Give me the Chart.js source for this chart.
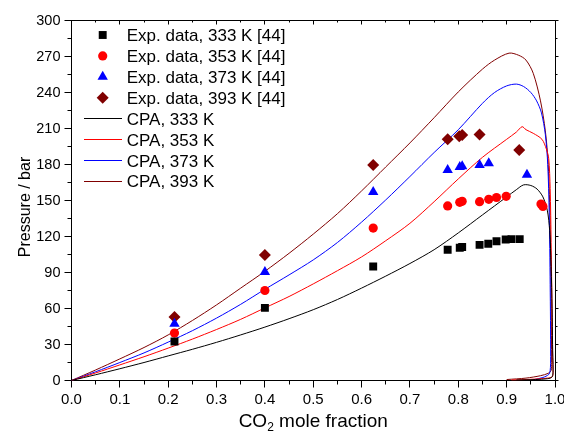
<!DOCTYPE html>
<html>
<head>
<meta charset="utf-8">
<script src="https://cdn.jsdelivr.net/npm/chart.js@4.4.1/dist/chart.umd.min.js"></script>
<style>
  body { margin: 0; background: #fff; }
  canvas { display: block; }
</style>
</head>
<body>
<canvas id="chart" width="564" height="439"></canvas>
<script>
const expLabels = ["Exp. data, 333 K [44]", "Exp. data, 353 K [44]", "Exp. data, 373 K [44]", "Exp. data, 393 K [44]"];
const cpaLabels = ["CPA, 333 K", "CPA, 353 K", "CPA, 373 K", "CPA, 393 K"];

// experimental points (CO2 mole fraction, pressure in bar)
const x333 = [0.213, 0.4, 0.624, 0.778, 0.803, 0.808, 0.844, 0.862, 0.879, 0.898, 0.91, 0.927];
const p333 = [32.5, 60.5, 95, 109, 110.6, 111.3, 113, 114, 116, 117.5, 117.8, 117.8];
const x353 = [0.213, 0.4, 0.624, 0.778, 0.803, 0.808, 0.844, 0.863, 0.879, 0.899, 0.971, 0.975];
const p353 = [39.5, 75, 127, 145.5, 148.5, 149.3, 149, 151, 152.5, 153.5, 147, 145];
const x373 = [0.213, 0.4, 0.624, 0.778, 0.803, 0.808, 0.844, 0.863, 0.942];
const p373 = [47.3, 90.5, 157, 175.5, 178, 178.5, 179.5, 181, 171.5];
const x393 = [0.213, 0.4, 0.624, 0.778, 0.802, 0.808, 0.844, 0.926];
const p393 = [53, 104.5, 179.5, 201, 203.5, 204.5, 205, 192];

// CPA model curves (bubble branch, then dew branch back down)
const cpa333X = [0, 0.05, 0.1, 0.15, 0.2, 0.25, 0.3, 0.35, 0.4, 0.45, 0.5, 0.55, 0.6, 0.65, 0.7, 0.75, 0.8, 0.85, 0.9, 0.92, 0.935, 0.95, 0.963, 0.975, 0.984, 0.989, 0.992, 0.994, 0.995, 0.996, 0.994, 0.985, 0.96, 0.92];
const cpa333P = [0, 4.8, 9.8, 15, 20.5, 26, 31.8, 38, 44.5, 51.5, 59, 67.5, 77, 87, 97.5, 109, 123, 138, 153, 159, 163, 162.5, 159.5, 153, 142, 125, 95, 60, 30, 8, 3, 1.5, 0.8, 0.4];
const cpa353X = [0, 0.05, 0.1, 0.15, 0.2, 0.25, 0.3, 0.35, 0.4, 0.45, 0.5, 0.55, 0.6, 0.65, 0.7, 0.75, 0.8, 0.85, 0.9, 0.92, 0.932, 0.94, 0.955, 0.973, 0.982, 0.987, 0.99, 0.992, 0.994, 0.995, 0.996, 0.994, 0.985, 0.95, 0.91];
const cpa353P = [0, 6.3, 13, 19.8, 27, 34.5, 42.5, 51, 60.5, 70, 80.5, 91.5, 103, 116.5, 131, 149, 168, 186, 201, 207, 211.5, 209, 206, 201, 193, 185, 160, 115, 55, 20, 6, 3, 2, 1, 0.4];
const cpa373X = [0, 0.05, 0.1, 0.15, 0.2, 0.25, 0.3, 0.35, 0.4, 0.45, 0.5, 0.55, 0.6, 0.65, 0.7, 0.75, 0.8, 0.85, 0.875, 0.9, 0.92, 0.935, 0.95, 0.962, 0.972, 0.98, 0.985, 0.988, 0.99, 0.991, 0.99, 0.987, 0.975, 0.955];
const cpa373P = [0, 7.3, 15, 23, 32, 41.5, 52, 63.5, 76, 88, 100.5, 115, 132, 150.5, 170, 190, 209, 231, 240, 245.5, 247, 245, 240, 233, 223, 205, 180, 140, 80, 20, 8, 5, 2.5, 0.6];
const cpa393X = [0, 0.05, 0.1, 0.15, 0.2, 0.25, 0.3, 0.35, 0.4, 0.45, 0.5, 0.55, 0.6, 0.65, 0.7, 0.75, 0.8, 0.85, 0.875, 0.905, 0.925, 0.94, 0.955, 0.97, 0.98, 0.986, 0.99, 0.992, 0.993, 0.992, 0.986, 0.97, 0.94, 0.9];
const cpa393P = [0, 8.8, 18, 27.5, 38, 50, 63, 77, 91, 106, 122, 139, 158, 178, 198, 219, 240.5, 259.5, 267, 272.8, 271, 267, 256, 233, 208, 180, 130, 60, 15, 8.5, 6, 4, 2, 0.8];

const toPoints = (xs, ps) => xs.map((x, i) => ({ x: x, y: ps[i] }));

const FONT = "'Liberation Sans', Arial, sans-serif";
Chart.defaults.font.family = FONT;
Chart.defaults.color = "#000";

function expSet(label, xs, ps, style, radius, color) {
  return {
    label: label,
    data: toPoints(xs, ps),
    pointStyle: style,
    pointRadius: radius,
    pointHoverRadius: radius,
    pointBackgroundColor: color,
    pointBorderWidth: 0,
    borderColor: color,
    backgroundColor: color,
    showLine: false,
  };
}

function cpaSet(label, xs, ps, color) {
  return {
    label: label,
    data: toPoints(xs, ps),
    showLine: true,
    borderColor: color,
    borderWidth: 1,
    pointRadius: 0,
    tension: 0.3,
  };
}

const align = (v) => Math.round(v - 0.5) + 0.5;

// box, minor ticks, axis titles and the legend
const decorations = {
  id: "decorations",
  afterDraw(chart) {
    const { ctx, chartArea: { left, right, top, bottom }, scales: { x, y } } = chart;
    const L = align(left), R = align(right), T = align(top), B = align(bottom);
    ctx.save();
    ctx.strokeStyle = "#000";
    ctx.lineWidth = 1;
    ctx.beginPath();
    ctx.moveTo(L, T);
    ctx.lineTo(R, T);
    ctx.lineTo(R, B);
    for (let i = 0; i <= 20; i++) {
      const px = align(x.getPixelForValue(i * 0.05));
      const major = i % 2 === 0;
      if (!major) {
        ctx.moveTo(px, B);
        ctx.lineTo(px, B + 4);
      }
      ctx.moveTo(px, T);
      ctx.lineTo(px, T + (major ? 4 : 2));
    }
    for (let i = 0; i <= 20; i++) {
      const py = align(y.getPixelForValue(i * 15));
      const major = i % 2 === 0;
      if (!major) {
        ctx.moveTo(L, py);
        ctx.lineTo(L - 4, py);
      }
      ctx.moveTo(R, py);
      ctx.lineTo(R + (major ? 3 : 2), py);
    }
    ctx.stroke();

    // y title
    ctx.fillStyle = "#000";
    ctx.font = "16px " + FONT;
    ctx.textAlign = "center";
    ctx.textBaseline = "middle";
    ctx.save();
    ctx.translate(25.5, 207);
    ctx.rotate(-Math.PI / 2);
    ctx.fillText("Pressure / bar", 0, 0);
    ctx.restore();

    // x title with subscript
    ctx.textAlign = "left";
    ctx.textBaseline = "alphabetic";
    const big = "19px " + FONT, small = "12px " + FONT;
    ctx.font = big;
    const w1 = ctx.measureText("CO").width;
    const w3 = ctx.measureText(" mole fraction").width;
    ctx.font = small;
    const w2 = ctx.measureText("2").width;
    const tx = (left + right) / 2 - (w1 + w2 + w3) / 2;
    const base = 427;
    ctx.font = big;
    ctx.fillText("CO", tx, base);
    ctx.font = small;
    ctx.fillText("2", tx + w1, base + 4);
    ctx.font = big;
    ctx.fillText(" mole fraction", tx + w1 + w2, base);

    // legend
    ctx.font = "17px " + FONT;
    const rowY = 35, rowH = 20.9;
    chart.data.datasets.forEach((ds, i) => {
      const cy = rowY + i * rowH;
      if (ds.showLine) {
        ctx.strokeStyle = ds.borderColor;
        ctx.lineWidth = 1;
        ctx.beginPath();
        ctx.moveTo(84, align(cy));
        ctx.lineTo(122, align(cy));
        ctx.stroke();
      } else {
        ctx.fillStyle = ds.pointBackgroundColor;
        Chart.helpers.drawPoint(ctx, { pointStyle: ds.pointStyle, radius: ds.pointRadius, rotation: 0, borderWidth: 0 }, 102.7, cy);
      }
      ctx.fillStyle = "#000";
      ctx.fillText(ds.label, 126.7, cy + 6.1);
    });
    ctx.restore();
  },
};

new Chart(document.getElementById("chart"), {
  type: "scatter",
  data: {
    datasets: [
      expSet(expLabels[0], x333, p333, "rect", 5.6, "#000000"),
      expSet(expLabels[1], x353, p353, "circle", 4.6, "#ff0000"),
      expSet(expLabels[2], x373, p373, "triangle", 6, "#0000ff"),
      expSet(expLabels[3], x393, p393, "rectRot", 6, "#800000"),
      cpaSet(cpaLabels[0], cpa333X, cpa333P, "#000000"),
      cpaSet(cpaLabels[1], cpa353X, cpa353P, "#ff0000"),
      cpaSet(cpaLabels[2], cpa373X, cpa373P, "#0000ff"),
      cpaSet(cpaLabels[3], cpa393X, cpa393P, "#800000"),
    ],
  },
  options: {
    responsive: false,
    animation: false,
    layout: { padding: { left: 0, right: 9, top: 20.5, bottom: 0 } },
    plugins: {
      legend: { display: false },
      tooltip: { enabled: false },
    },
    scales: {
      x: {
        type: "linear",
        min: 0,
        max: 1,
        afterFit(scale) {
          scale.height = 58.5;
          scale.paddingLeft = 0;
          scale.paddingRight = 0;
        },
        ticks: {
          stepSize: 0.1,
          padding: 3,
          maxRotation: 0,
          font: { size: 15 },
          callback: (v) => v.toFixed(1),
        },
        grid: { drawOnChartArea: false, drawTicks: true, tickLength: 7, color: "#000", tickWidth: 1 },
        border: { display: true, color: "#000", width: 1 },
      },
      y: {
        min: 0,
        max: 300,
        afterFit(scale) {
          scale.width = 71.5;
        },
        ticks: {
          stepSize: 30,
          padding: 4,
          font: { size: 14.5 },
        },
        grid: { drawOnChartArea: false, drawTicks: true, tickLength: 7, color: "#000", tickWidth: 1 },
        border: { display: true, color: "#000", width: 1 },
      },
    },
  },
  plugins: [decorations],
});
</script>
</body>
</html>
